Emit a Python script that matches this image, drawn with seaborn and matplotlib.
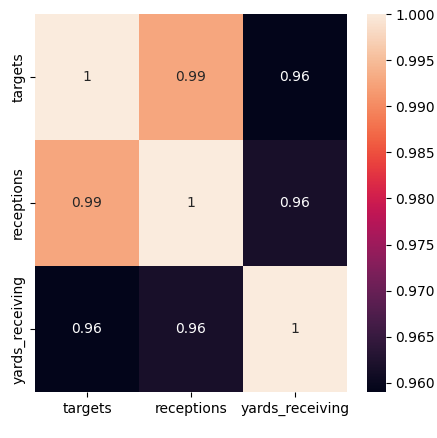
import numpy as np
import pandas as pd
import seaborn as sns
import matplotlib
matplotlib.use("Agg")
import matplotlib.pyplot as plt

# Pairwise correlations of receiving stats
columns = ["targets", "receptions", "yards_receiving"]
targets_row = [1.0, 0.9927, 0.9590]
receptions_row = [0.9927, 1.0, 0.9616]
yards_row = [0.9590, 0.9616, 1.0]

corr = pd.DataFrame([targets_row, receptions_row, yards_row],
                    index=columns, columns=columns)

fig = plt.figure(figsize=(4.37, 4.38), dpi=100)
ax = fig.add_axes([0.080, 0.105, 0.714, 0.863])
cax = fig.add_axes([0.840, 0.105, 0.043, 0.863])

sns.heatmap(corr, annot=True, ax=ax, cbar_ax=cax)

ax.tick_params(labelsize=10)
cax.tick_params(labelsize=10)
cax.yaxis.set_major_locator(matplotlib.ticker.MultipleLocator(0.005))
cax.yaxis.set_major_formatter(matplotlib.ticker.FormatStrFormatter("%.3f"))

fig.savefig("out.png", dpi=100)
